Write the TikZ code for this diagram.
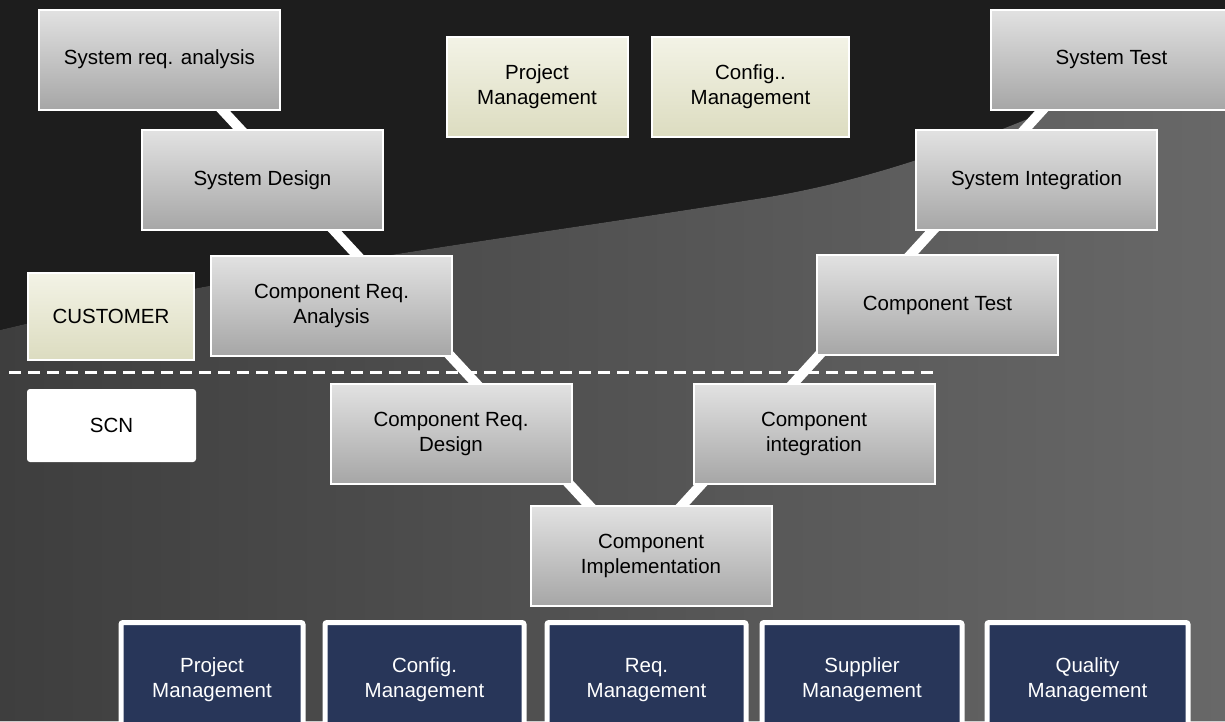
\documentclass[tikz,border=0pt]{standalone}
\usepackage{fontspec}
\setmainfont{Liberation Sans}
\usetikzlibrary{backgrounds}
\pgfdeclarelayer{photo}
\pgfdeclarelayer{wire}
\pgfsetlayers{photo,wire,main}

\definecolor{boxtop}{RGB}{226,226,226}
\definecolor{boxbot}{RGB}{166,166,166}
\definecolor{notetop}{RGB}{243,243,230}
\definecolor{notebot}{RGB}{220,220,192}
\definecolor{navy}{RGB}{40,54,89}
\definecolor{bgdark}{RGB}{29,29,29}
\definecolor{bgmid}{RGB}{62,62,62}
\definecolor{bglight}{RGB}{104,104,104}

\tikzset{
  vtext/.style={align=center, inner sep=0pt, font=\fontsize{20.5}{25}\selectfont},
  vbox/.style={vtext, draw=white, line width=2pt, top color=boxtop, bottom color=boxbot,
    minimum width=241pt, minimum height=100pt},
  notebox/.style={vtext, draw=white, line width=2pt, top color=notetop, bottom color=notebot,
    minimum height=100pt},
  scnbox/.style={vtext, fill=white, rounded corners=3pt, minimum width=169pt, minimum height=73pt},
  mgmtbox/.style={vtext, text=white, fill=navy, draw=white, line width=5pt, rounded corners=2pt,
    minimum height=115pt},
  vline/.style={white, line width=10pt},
  cutline/.style={white, line width=3pt, dash pattern=on 12pt off 7pt}
}

\begin{document}
\begin{tikzpicture}[x=1pt, y=-1pt]
  \path[use as bounding box] (0,0) rectangle (1225,721);
  \clip (0,0) rectangle (1225,721);

  %%%%% background %%%%%
  \begin{pgfonlayer}{photo}
    \fill[bgdark] (0,0) rectangle (1225,721);
    \fill[left color=bgmid, right color=bglight]
      (0,330) .. controls (250,270) and (500,240) .. (750,200)
      .. controls (950,170) and (1100,80) .. (1225,40)
      -- (1225,721) -- (0,721) -- cycle;
  \end{pgfonlayer}

  %%%%% V model %%%%%
  \node[vbox] (sra)     at (159.5,59.5)  {System req. analysis};
  \node[vbox] (sysdes)  at (262.5,180)   {System Design};
  \node[vbox] (cra)     at (331.5,305.5) {Component Req.\\Analysis};
  \node[vbox] (crd)     at (451,433.5)   {Component Req.\\Design};
  \node[vbox] (impl)    at (651,556)     {Component\\Implementation};
  \node[vbox] (cint)    at (814,433.5)   {Component\\integration};
  \node[vbox] (ctest)   at (937.5,305)   {Component Test};
  \node[vbox] (sysint)  at (1036.5,180)  {System Integration};
  \node[vbox] (systest) at (1111.5,59.5) {System Test};

  \begin{pgfonlayer}{wire}
    \draw[vline] ([xshift=16pt]sra.center) -- ([xshift=-15pt]impl.center) -- ([xshift=-23pt]systest.center);
  \end{pgfonlayer}

  %%%%% customer side %%%%%
  \node[notebox, minimum width=181pt] (pmtop)  at (537,87)  {Project\\Management};
  \node[notebox, minimum width=197pt] (cfgtop) at (750.5,87) {Config..\\Management};
  \node[notebox, minimum width=166pt, minimum height=87pt] (cust) at (111,316) {CUSTOMER};
  \node[scnbox] (scn) at (111.5,425.5) {SCN};

  \coordinate (cutL) at (9,372);
  \coordinate (cutR) at (935,372);
  \draw[cutline] (cutL) -- (cutR);

  %%%%% support processes %%%%%
  \node[mgmtbox, minimum width=182pt] (pm)  at (212,680)   {Project\\Management};
  \node[mgmtbox, minimum width=199pt] (cfg) at (424.5,680) {Config.\\Management};
  \node[mgmtbox, minimum width=199pt] (req) at (646.5,680) {Req.\\Management};
  \node[mgmtbox, minimum width=200pt] (sup) at (862,680)   {Supplier\\Management};
  \node[mgmtbox, minimum width=201pt] (qm)  at (1087.5,680) {Quality\\Management};
\end{tikzpicture}
\end{document}
